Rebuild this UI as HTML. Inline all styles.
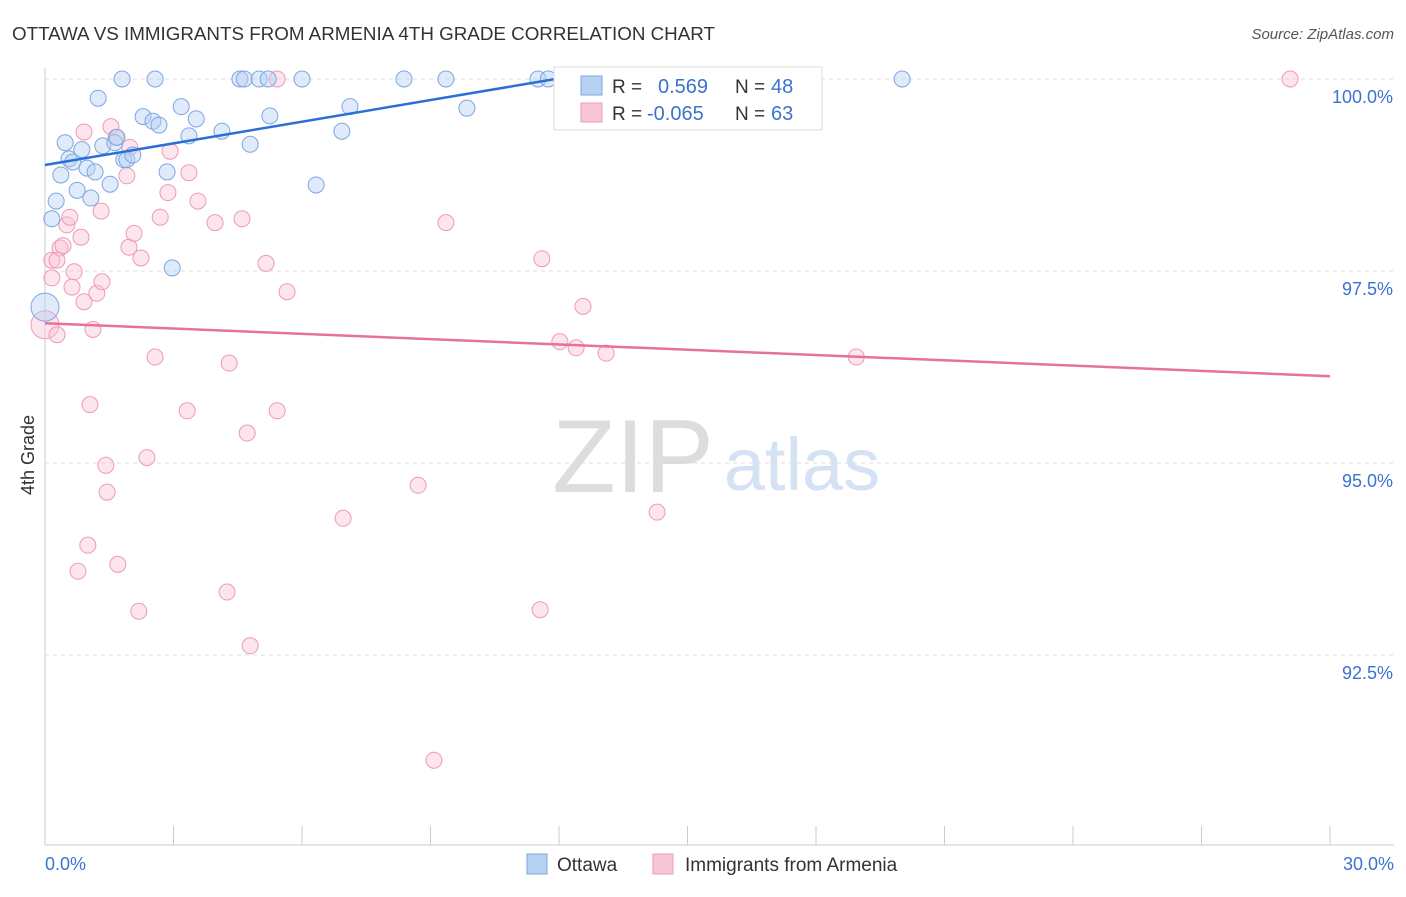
<!DOCTYPE html>
<html><head><meta charset="utf-8"><style>
body{margin:0;background:#fff;width:1406px;height:892px;overflow:hidden;font-family:"Liberation Sans",sans-serif}
svg text{font-family:"Liberation Sans",sans-serif}
</style></head><body>
<svg id="c" width="1406" height="892">
<text x="12" y="40" font-size="18.8" fill="#333">OTTAWA VS IMMIGRANTS FROM ARMENIA 4TH GRADE CORRELATION CHART</text>
<text x="1394" y="39" font-size="15" fill="#555" text-anchor="end" font-style="italic">Source: ZipAtlas.com</text>
<text x="34" y="455" font-size="18" fill="#333" text-anchor="middle" transform="rotate(-90 34 455)">4th Grade</text>
<g><text x="633" y="492" font-size="104" fill="#ddd" text-anchor="middle" font-family="Liberation Serif">ZIP</text><text x="802" y="490" font-size="74" fill="#d4e2f4" text-anchor="middle">atlas</text></g>
<g id="grid"></g><g id="marks"></g>
<g>
<rect x="554" y="67" width="268" height="63" fill="#fff" stroke="#ddd"/>
<rect x="581" y="76" width="21" height="19" fill="#b7d1f3" stroke="#7da7e0"/>
<rect x="581" y="103" width="21" height="19" fill="#f9c6d5" stroke="#ef9ab5"/>
<text x="612" y="93" font-size="19" fill="#333">R =</text><text x="658" y="93" font-size="20" fill="#3b73d1">0.569</text>
<text x="735" y="93" font-size="19" fill="#333">N =</text><text x="771" y="93" font-size="20" fill="#3b73d1">48</text>
<text x="612" y="120" font-size="19" fill="#333">R =</text><text x="647" y="120" font-size="20" fill="#3b73d1">-0.065</text>
<text x="735" y="120" font-size="19" fill="#333">N =</text><text x="771" y="120" font-size="20" fill="#3b73d1">63</text>
</g>
<g>
<rect x="527" y="854" width="20" height="20" fill="#b7d1f3" stroke="#7da7e0"/><text x="557" y="871" font-size="19" fill="#333">Ottawa</text>
<rect x="653" y="854" width="20" height="20" fill="#f9c6d5" stroke="#ef9ab5"/><text x="685" y="871" font-size="19" fill="#333">Immigrants from Armenia</text>
</g>
</svg>
<script>
const yTicks=[100,97.5,95,92.5];
const yTickLabels=["100.0%","97.5%","95.0%","92.5%"];
const xTicks=[0,3,6,9,12,15,18,21,24,27,30];
const xEndLabels=["0.0%","30.0%"];
const ottawaX=[0,0.16,0.26,0.37,0.47,0.56,0.65,0.75,0.86,0.98,1.07,1.17,1.24,1.52,1.35,1.63,1.68,1.84,1.91,2.05,1.8,2.57,2.29,2.52,2.66,2.85,2.97,3.18,3.36,3.53,4.13,4.55,4.65,4.79,5.0,5.25,5.21,6.0,6.33,6.93,7.12,8.38,9.36,9.85,11.51,11.75,12.87,20.01];
const ottawaY=[97.03,98.18,98.41,98.75,99.17,98.96,98.92,98.55,99.08,98.84,98.45,98.79,99.75,98.63,99.13,99.17,99.24,98.95,98.95,99.01,100,100,99.51,99.45,99.4,98.79,97.54,99.64,99.26,99.48,99.32,100,100,99.15,100,99.52,100,100,98.62,99.32,99.64,100,100,99.62,100,100,100,100];
const armX=[0,0.16,0.16,0.28,0.35,0.42,0.28,0.51,0.58,0.63,0.68,0.84,0.91,0.91,1.12,1.05,1.21,1.33,1.31,1.42,1.45,1.0,0.77,1.7,1.54,1.66,1.91,1.98,1.96,2.08,2.24,2.19,2.38,2.57,2.69,2.87,2.92,3.32,3.36,3.57,3.97,4.3,4.25,4.6,4.72,4.79,5.16,5.42,5.65,5.42,6.96,8.71,9.08,9.36,11.56,11.6,12.02,12.4,12.56,13.1,14.29,18.94,29.07];
const armY=[96.8,97.64,97.41,96.67,97.8,97.83,97.64,98.1,98.2,97.29,97.49,97.94,99.31,97.1,96.74,95.76,97.21,97.36,98.28,94.97,94.62,93.93,93.59,93.68,99.38,99.24,98.74,99.11,97.81,97.99,97.67,93.07,95.07,96.38,98.2,98.52,99.06,95.68,98.78,98.41,98.13,96.3,93.32,98.18,95.39,92.62,97.6,95.68,97.23,100,94.28,94.71,91.13,98.13,93.09,97.66,96.58,96.5,97.04,96.43,94.36,96.38,100];
const ottawaTrendX=[0,12.02];
const ottawaTrendY=[98.88,100.01];
const armTrendX=[0,30];
const armTrendY=[96.82,96.13];
const X=v=>45+v*42.833, Y=v=>79+(100-v)*76.8;
const NS="http://www.w3.org/2000/svg";
const grid=document.getElementById('grid'), marks=document.getElementById('marks');
function mk(tag,attrs,parent){const e=document.createElementNS(NS,tag);for(const k in attrs)e.setAttribute(k,attrs[k]);parent.appendChild(e);return e;}
yTicks.forEach((t,i)=>{
 const l=mk('line',{x1:45,x2:1394,y1:Y(t),y2:Y(t),stroke:'#ddd','stroke-dasharray':'4,4'},grid);
 
 
 const tx=mk('text',{x:1393,y:Y(t)+24,'font-size':18,fill:'#3b73d1','text-anchor':'end'},grid);tx.textContent=yTickLabels[i];
 
 
});
const ax=mk('line',{x1:45,x2:1394,y1:845,y2:845,stroke:'#ccc'},grid);


const ay=mk('line',{x1:45,x2:45,y1:68,y2:845,stroke:'#ccc'},grid);


xTicks.forEach(t=>{
 const l=mk('line',{x1:X(t),x2:X(t),y1:826,y2:845,stroke:'#ccc'},grid);
 
 
});
const xl0=mk('text',{x:45,y:870,'font-size':18,fill:'#3b73d1'},grid);xl0.textContent=xEndLabels[0];


const xl1=mk('text',{x:1394,y:870,'font-size':18,fill:'#3b73d1','text-anchor':'end'},grid);xl1.textContent=xEndLabels[1];


function pts(xs,ys,fill,stroke,name){xs.forEach((x,i)=>{
 const c=mk('circle',{cx:X(x),cy:Y(ys[i]),r:i===0?14:8,fill:fill,'fill-opacity':0.45,stroke:stroke,'stroke-width':1},marks);
 
 
});}
pts(armX,armY,'#f9c6d5','#ef9ab5','armenia-point');
pts(ottawaX,ottawaY,'#b7d1f3','#7da7e0','ottawa-point');
const t1=mk('line',{x1:X(ottawaTrendX[0]),y1:Y(ottawaTrendY[0]),x2:X(ottawaTrendX[1]),y2:Y(ottawaTrendY[1]),stroke:'#2a6fd6','stroke-width':2.5},marks);


const t2=mk('line',{x1:X(armTrendX[0]),y1:Y(armTrendY[0]),x2:X(armTrendX[1]),y2:Y(armTrendY[1]),stroke:'#e8719a','stroke-width':2.5},marks);


</script>
</body></html>
